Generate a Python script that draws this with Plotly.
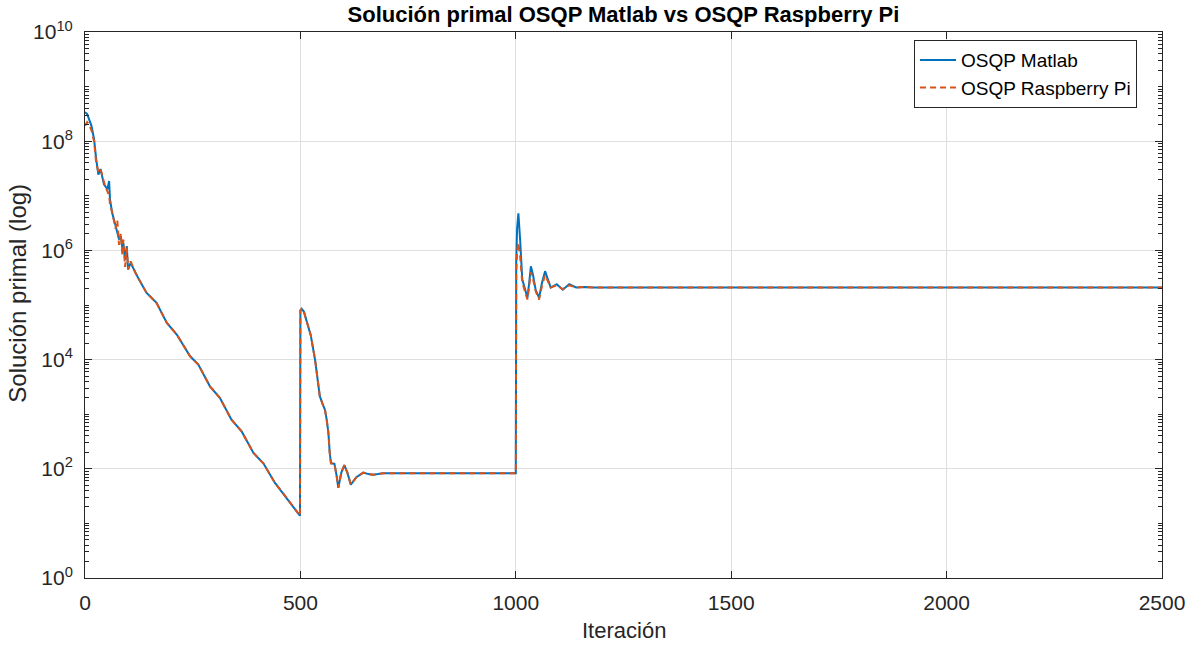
import plotly.graph_objects as go

# ---- data ----
x_matlab = [0, 5, 15, 21, 26, 31, 36, 44, 52, 56, 58, 63, 71, 79, 83, 87, 89, 93, 97, 100, 106, 117, 125,
            143, 166, 190, 213, 244, 263, 290, 313, 340, 364, 391, 414, 441, 460, 499,
            500, 503, 508, 514, 524, 534, 540, 545, 551, 557, 561, 565, 568, 571, 575, 579, 584, 588,
            595, 602, 609, 617, 630, 646, 658, 669, 680, 692, 1000,
            1001, 1003, 1006, 1010, 1015, 1021, 1027, 1031, 1035, 1040, 1046, 1054, 1061, 1068, 1075,
            1081, 1095, 1109, 1124, 1140, 1160, 1180, 2500]
y_matlab = [3.39e8, 3.16e8, 1.91e8, 1.10e8, 4.68e7, 2.45e7, 3.09e7, 1.62e7, 1.32e7, 1.86e7, 8.71e6, 4.90e6,
            2.82e6, 1.58e6, 1.82e6, 1.05e6, 1.38e6, 6.76e5, 1.20e6, 4.47e5, 5.89e5, 3.89e5, 2.95e5,
            1.66e5, 1.10e5, 4.68e4, 2.88e4, 1.15e4, 8.13e3, 3.24e3, 2.00e3, 794, 479, 195, 126, 55, 35.5, 13.8,
            7.94e4, 8.51e4, 7.6e4, 5.37e4, 2.8e4, 1.0e4, 4.0e3, 2.14e3, 1.58e3, 1.20e3, 794, 457, 200, 126,
            125, 123, 75, 44.7,
            85, 117, 85, 51.3, 70, 85.1, 80, 77.6, 80, 83.2, 83.2,
            6.0e5, 2.5e6, 4.79e6, 1.58e6, 2.95e5, 2.0e5, 1.35e5, 2.51e5, 5.13e5, 3.55e5, 1.9e5, 1.35e5,
            2.6e5, 4.17e5, 2.82e5, 2.09e5, 2.40e5, 1.91e5, 2.40e5, 2.09e5, 2.14e5, 2.09e5, 2.09e5]

x_rpi = [0, 5, 10, 15, 21, 26, 31, 36, 44, 52, 56, 58, 63, 71, 75, 79, 83, 87, 89, 93, 97, 100, 106, 117, 125,
         143, 166, 190, 213, 244, 263, 290, 313, 340, 364, 391, 414, 441, 460, 499,
         500, 503, 508, 514, 524, 534, 540, 545, 551, 557, 561, 565, 568, 571, 575, 579, 584, 588,
         595, 602, 609, 617, 630, 646, 658, 669, 680, 692, 1000,
         1001, 1003, 1006, 1010, 1015, 1021, 1027, 1031, 1035, 1040, 1046, 1054, 1061, 1068, 1075,
         1081, 1095, 1109, 1124, 1140, 1160, 1180, 2500]
y_rpi = [1.91e8, 2.24e8, 2.0e8, 1.58e8, 1.0e8, 4.0e7, 2.8e7, 3.16e7, 1.78e7, 1.26e7, 1.0e7, 7.1e6, 5.0e6,
         2.5e6, 3.55e6, 1.26e6, 2.0e6, 7.9e5, 1.58e6, 5.0e5, 1.12e6, 4.47e5, 6.3e5, 3.89e5, 2.95e5,
         1.66e5, 1.10e5, 4.68e4, 2.88e4, 1.15e4, 8.13e3, 3.24e3, 2.00e3, 794, 479, 195, 126, 55, 35.5, 13.8,
         7.94e4, 8.51e4, 7.6e4, 5.37e4, 2.8e4, 1.0e4, 4.0e3, 2.14e3, 1.58e3, 1.20e3, 794, 457, 200, 126,
         125, 123, 75, 44.7,
         85, 117, 85, 51.3, 70, 85.1, 80, 77.6, 80, 83.2, 83.2,
         4.0e5, 1.0e6, 1.38e6, 8.0e5, 2.6e5, 1.8e5, 1.26e5, 2.2e5, 4.0e5, 3.0e5, 1.8e5, 1.26e5,
         2.3e5, 3.55e5, 2.6e5, 2.09e5, 2.30e5, 1.95e5, 2.30e5, 2.09e5, 2.14e5, 2.09e5, 2.09e5]

x_ticks = [0, 500, 1000, 1500, 2000, 2500]
y_tick_vals = [1, 1e2, 1e4, 1e6, 1e8, 1e10]
y_tick_text = ["10<sup>0</sup>", "10<sup>2</sup>", "10<sup>4</sup>", "10<sup>6</sup>",
               "10<sup>8</sup>", "10<sup>10</sup>"]
minor_vals = [m * 10 ** k for k in range(0, 10) for m in range(1, 10)
              if not (m == 1 and k % 2 == 0)]

title_text = "<b>Solución primal OSQP Matlab vs OSQP Raspberry Pi</b>"
x_title = "Iteración"
y_title = "Solución primal (log)"

AXC = "#262626"
FONT = "Liberation Sans, Arial, Helvetica, sans-serif"

fig = go.Figure()
fig.add_trace(go.Scatter(x=x_matlab, y=y_matlab, mode="lines", name="OSQP Matlab",
                         line=dict(color="#0072BD", width=2)))
fig.add_trace(go.Scatter(x=x_rpi, y=y_rpi, mode="lines", name="OSQP Raspberry Pi",
                         line=dict(color="#D95319", width=2, dash="6px,4px")))

fig.update_layout(
    width=1195, height=645,
    paper_bgcolor="white", plot_bgcolor="white",
    margin=dict(l=85, r=33, t=32, b=67),
    font=dict(family=FONT, color=AXC, size=21),
    title=dict(text=title_text,
               x=0.5, xref="paper", xanchor="center", y=0.978, yanchor="middle",
               font=dict(size=22, color="black")),
    showlegend=True,
    legend=dict(x=0.9768, y=0.9853, xanchor="right", yanchor="top",
                bgcolor="white", bordercolor=AXC, borderwidth=1,
                font=dict(size=19, color="black"), tracegroupgap=0,
                itemwidth=36),
    annotations=[
        dict(text=x_title, xref="paper", yref="paper", x=0.5, y=-0.097,
             xanchor="center", yanchor="middle", showarrow=False,
             font=dict(size=22, color=AXC)),
        dict(text=y_title, xref="paper", yref="paper", x=-0.0625, y=0.522,
             xanchor="center", yanchor="middle", showarrow=False, textangle=-90,
             font=dict(size=24, color=AXC)),
    ],
)
fig.update_xaxes(range=[0, 2500], tickvals=x_ticks, ticks="inside", ticklen=7,
                 tickcolor=AXC, showline=True, linecolor=AXC, linewidth=1,
                 mirror="allticks", showgrid=True, gridcolor="#dfdfdf", gridwidth=1,
                 zeroline=False, automargin=False, ticklabelstandoff=6,
                 tickfont=dict(size=21))
fig.update_yaxes(type="log", range=[0, 10], tickvals=y_tick_vals, ticktext=y_tick_text,
                 ticks="inside", ticklen=7, tickcolor=AXC, showline=True, linecolor=AXC,
                 linewidth=1, mirror="allticks", showgrid=True, gridcolor="#dfdfdf",
                 gridwidth=1, zeroline=False, automargin=False, ticklabelstandoff=7,
                 minor=dict(tickvals=minor_vals, ticks="inside", ticklen=4, tickcolor=AXC,
                            showgrid=False),
                 tickfont=dict(size=21))

fig.write_html("out.html")
